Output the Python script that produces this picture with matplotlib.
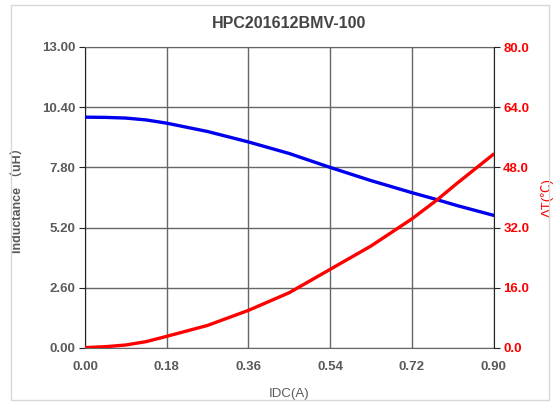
import matplotlib
matplotlib.use("Agg")
import matplotlib.pyplot as plt
from matplotlib.patches import Rectangle

title = "HPC201612BMV-100"
idc = [0.0, 0.045, 0.09, 0.135, 0.18, 0.27, 0.36, 0.45, 0.54, 0.63, 0.72, 0.775, 0.82, 0.90]
inductance = [9.97, 9.96, 9.93, 9.85, 9.71, 9.35, 8.90, 8.40, 7.80, 7.23, 6.71, 6.41, 6.15, 5.73]
delta_t = [0.1, 0.35, 0.8, 1.7, 3.1, 6.0, 10.0, 14.7, 20.9, 27.1, 34.3, 39.3, 43.8, 51.5]
x_ticks = [0.00, 0.18, 0.36, 0.54, 0.72, 0.90]
l_ticks = [0.00, 2.60, 5.20, 7.80, 10.40, 13.00]
r_ticks = [0.0, 16.0, 32.0, 48.0, 64.0, 80.0]

GRAY = "#5a5a5a"
RED = "#ff0000"
fam = ["Liberation Sans", "Noto Sans CJK SC", "DejaVu Sans"]
plt.rcParams["font.family"] = fam

fig = plt.figure(figsize=(5.58, 4.03), dpi=100)
fig.patches.append(Rectangle((11/558, 1-400/403), 538/558, 395/403, transform=fig.transFigure,
                             fill=False, edgecolor="#d8d8d8", linewidth=1))
ax = fig.add_axes([85/558, 1-348/403, 408.5/558, 301/403])
ax2 = ax.twinx()

ax.plot(idc, inductance, color="#0000ee", linewidth=2.4, solid_capstyle="round",
        solid_joinstyle="round", zorder=3)
ax2.plot(idc, delta_t, color=RED, linewidth=2.4, solid_capstyle="round",
         solid_joinstyle="round", zorder=3)

ax.set_xlim(0, 0.90)
ax.set_ylim(0, 13.0)
ax2.set_ylim(0, 80.0)
ax.set_xticks(x_ticks)
ax.set_xticklabels([f"{v:.2f}" for v in x_ticks])
ax.set_yticks(l_ticks)
ax.set_yticklabels([f"{v:.2f}" for v in l_ticks])
ax2.set_yticks(r_ticks)
ax2.set_yticklabels([f"{v:.1f}" for v in r_ticks])

ax.grid(True, color="#666666", linewidth=1.0)
ax.set_axisbelow(True)
for s in ["top", "bottom"]:
    ax.spines[s].set_color("#666666")
    ax2.spines[s].set_visible(False)
ax.spines["left"].set_color("#222222")
ax2.spines["right"].set_color("#222222")
ax2.spines["left"].set_visible(False)
ax.spines["right"].set_visible(False)

ax.tick_params(axis="x", length=0, pad=9, labelsize=9.5, labelcolor=GRAY)
ax.tick_params(axis="y", length=4, color="#222222", pad=3, labelsize=9.5, labelcolor=GRAY)
ax2.tick_params(axis="y", length=4, color="#222222", pad=3, labelsize=9.5, labelcolor=RED)
for lab in ax.get_xticklabels() + ax.get_yticklabels():
    lab.set_fontweight("bold")
for lab in ax2.get_yticklabels():
    lab.set_fontweight("bold")

ax.set_xlabel("IDC(A)", color=GRAY, fontsize=9.5, labelpad=11)
ax.set_ylabel("Inductance （uH）", color=GRAY, fontsize=9, fontweight="bold", labelpad=12)
ax2.set_ylabel("ΔT(℃)", color=RED, fontsize=9.5, labelpad=8)
ax.set_title(title, color="#444444", fontsize=11.5, fontweight="bold", pad=14)

fig.savefig("out.png", dpi=100)
